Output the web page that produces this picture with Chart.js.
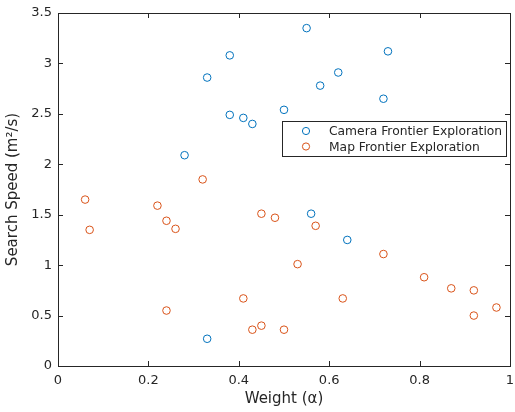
<!DOCTYPE html>
<html>
<head>
<meta charset="utf-8">
<script src="https://cdn.jsdelivr.net/npm/chart.js@4"></script>
<style>
  html, body { margin: 0; padding: 0; background: #fff; }
  #wrap { width: 515px; height: 412px; }
</style>
</head>
<body>
<div id="wrap"><canvas id="chart" width="515" height="412"></canvas></div>
<script>
// camera frontier exploration points
const camX = [0.33, 0.38, 0.55, 0.73, 0.62, 0.58, 0.72, 0.50, 0.43, 0.41, 0.38, 0.28, 0.56, 0.64, 0.33];
const camY = [2.86, 3.08, 3.35, 3.12, 2.91, 2.78, 2.65, 2.54, 2.40, 2.46, 2.49, 2.09, 1.51, 1.25, 0.27];
// map frontier exploration points
const mapX = [0.32, 0.06, 0.07, 0.22, 0.24, 0.26, 0.41, 0.24, 0.43, 0.45, 0.48, 0.57, 0.53, 0.72, 0.81, 0.87, 0.92, 0.97, 0.92, 0.63, 0.45, 0.50];
const mapY = [1.85, 1.65, 1.35, 1.59, 1.44, 1.36, 0.67, 0.55, 0.36, 1.51, 1.47, 1.39, 1.01, 1.11, 0.88, 0.77, 0.75, 0.58, 0.50, 0.67, 0.40, 0.36];
const seriesNames = ['Camera Frontier Exploration', 'Map Frontier Exploration'];
const xTicks = [0, 0.2, 0.4, 0.6, 0.8, 1];
const yTicks = [0, 0.5, 1, 1.5, 2, 2.5, 3, 3.5];

const blue = '#0072BD', orange = '#D95319', ink = '#262626';
const pts = (xs, ys) => xs.map((x, i) => ({ x: x, y: ys[i] }));

// box around the plot, inward ticks on all sides, legend inside the axes
const matlabBox = {
    id: 'matlabBox',
    afterDraw(chart) {
        const ctx = chart.ctx, a = chart.chartArea;
        const sx = chart.scales.x, sy = chart.scales.y;
        ctx.save();
        ctx.strokeStyle = ink;
        ctx.lineWidth = 1;
        ctx.strokeRect(a.left + 0.5, a.top + 0.5, a.right - a.left, a.bottom - a.top);
        ctx.beginPath();
        xTicks.forEach(v => {
            const px = Math.round(sx.getPixelForValue(v)) + 0.5;
            ctx.moveTo(px, a.bottom); ctx.lineTo(px, a.bottom - 5);
            ctx.moveTo(px, a.top); ctx.lineTo(px, a.top + 5);
        });
        yTicks.forEach(v => {
            const py = Math.round(sy.getPixelForValue(v)) + 0.5;
            ctx.moveTo(a.left, py); ctx.lineTo(a.left + 5, py);
            ctx.moveTo(a.right, py); ctx.lineTo(a.right - 5, py);
        });
        ctx.stroke();

        // legend
        const lx = 282, ly = 121, lw = 224, lh = 35;
        ctx.fillStyle = '#fff';
        ctx.fillRect(lx, ly, lw, lh);
        ctx.strokeRect(lx + 0.5, ly + 0.5, lw, lh);
        ctx.font = '12.3px "DejaVu Sans"';
        ctx.textBaseline = 'middle';
        chart.data.datasets.forEach((ds, i) => {
            const y = ly + 10 + i * 15.5;
            ctx.beginPath();
            ctx.strokeStyle = ds.borderColor;
            ctx.arc(lx + 24, y, 3.6, 0, Math.PI * 2);
            ctx.stroke();
            ctx.fillStyle = ink;
            ctx.fillText(ds.label, lx + 47, y + 1);
        });
        ctx.restore();
    }
};

new Chart(document.getElementById('chart'), {
    type: 'scatter',
    data: {
        datasets: [
            { label: seriesNames[0], data: pts(camX, camY), borderColor: blue, backgroundColor: 'rgba(0,0,0,0)', pointRadius: 3.8, borderWidth: 1 },
            { label: seriesNames[1], data: pts(mapX, mapY), borderColor: orange, backgroundColor: 'rgba(0,0,0,0)', pointRadius: 3.8, borderWidth: 1 }
        ]
    },
    options: {
        responsive: false,
        animation: false,
        layout: { padding: { top: 13, right: 1, left: 0, bottom: 0 } },
        plugins: { legend: { display: false }, tooltip: { enabled: false } },
        scales: {
            x: {
                type: 'linear', min: 0, max: 1,
                afterBuildTicks: s => { s.ticks = xTicks.map(v => ({ value: v })); },
                afterFit: s => { s.height = 46; s.paddingLeft = 0; s.paddingRight = 0; },
                grid: { display: false, drawTicks: false },
                border: { display: false },
                ticks: { color: ink, font: { family: 'DejaVu Sans', size: 13 }, padding: 7, maxRotation: 0, callback: v => String(v) },
                title: { display: true, text: 'Weight (α)', color: ink, font: { family: 'DejaVu Sans', size: 15 }, padding: { top: 0 } }
            },
            y: {
                type: 'linear', min: 0, max: 3.5,
                afterBuildTicks: s => { s.ticks = yTicks.map(v => ({ value: v })); },
                afterFit: s => { s.width = 58; s.paddingTop = 0; s.paddingBottom = 0; },
                grid: { display: false, drawTicks: false },
                border: { display: false },
                ticks: { color: ink, font: { family: 'DejaVu Sans', size: 13 }, padding: 6, callback: v => String(v) },
                title: { display: true, text: 'Search Speed (m²/s)', color: ink, font: { family: 'DejaVu Sans', size: 15 }, padding: { bottom: 0 } }
            }
        }
    },
    plugins: [matlabBox]
});
</script>
</body>
</html>
